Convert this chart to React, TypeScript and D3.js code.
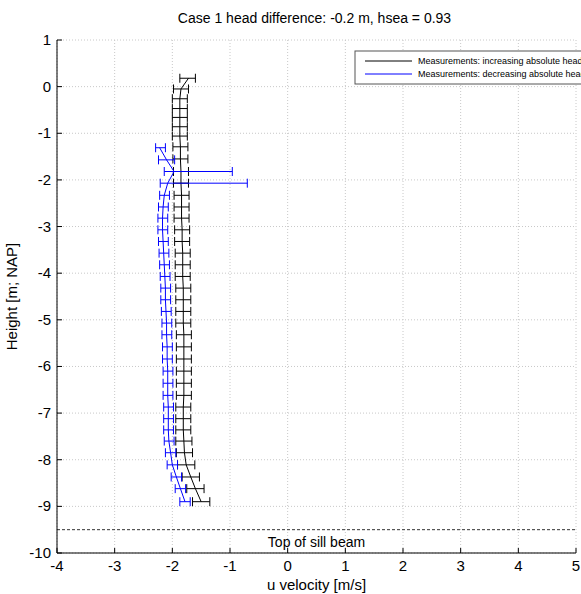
import React from "react";
import * as d3 from "d3";

// measurement heights [m; NAP] and mean u velocity [m/s]
const heightsInc = [0.18, -0.05, -0.26, -0.47, -0.66, -0.86, -1.06, -1.29, -1.55, -1.82, -2.07, -2.33, -2.58, -2.82, -3.07, -3.32, -3.57, -3.82, -4.07, -4.32, -4.57, -4.82, -5.07, -5.32, -5.58, -5.84, -6.1, -6.36, -6.62, -6.87, -7.12, -7.36, -7.6, -7.85, -8.11, -8.37, -8.62, -8.9];
const uInc = [-1.72, -1.85, -1.87, -1.87, -1.87, -1.87, -1.87, -1.86, -1.86, -1.85, -1.85, -1.84, -1.84, -1.84, -1.83, -1.83, -1.82, -1.82, -1.82, -1.81, -1.81, -1.81, -1.81, -1.8, -1.8, -1.8, -1.8, -1.8, -1.8, -1.81, -1.81, -1.81, -1.8, -1.79, -1.76, -1.68, -1.6, -1.5];
const errIncL = [0.15, 0.13, 0.13, 0.13, 0.13, 0.13, 0.13, 0.13, 0.13, 0.13, 0.13, 0.13, 0.13, 0.13, 0.13, 0.13, 0.13, 0.13, 0.13, 0.13, 0.13, 0.13, 0.13, 0.13, 0.13, 0.13, 0.13, 0.13, 0.13, 0.13, 0.13, 0.13, 0.14, 0.14, 0.15, 0.15, 0.15, 0.15];
const errIncR = [0.12, 0.13, 0.13, 0.13, 0.13, 0.13, 0.13, 0.13, 0.13, 0.13, 0.13, 0.13, 0.13, 0.13, 0.13, 0.13, 0.13, 0.13, 0.13, 0.13, 0.13, 0.13, 0.13, 0.13, 0.13, 0.13, 0.13, 0.13, 0.13, 0.13, 0.13, 0.13, 0.14, 0.14, 0.15, 0.15, 0.15, 0.15];

const heightsDec = [-1.31, -1.57, -1.82, -2.07, -2.33, -2.58, -2.82, -3.07, -3.32, -3.57, -3.82, -4.07, -4.32, -4.57, -4.82, -5.07, -5.32, -5.58, -5.84, -6.1, -6.36, -6.62, -6.87, -7.12, -7.36, -7.6, -7.85, -8.11, -8.37, -8.62, -8.9];
const uDec = [-2.22, -2.1, -1.97, -2.08, -2.14, -2.16, -2.17, -2.17, -2.16, -2.15, -2.14, -2.13, -2.12, -2.12, -2.11, -2.1, -2.1, -2.09, -2.09, -2.08, -2.08, -2.08, -2.07, -2.07, -2.07, -2.06, -2.03, -2.0, -1.93, -1.86, -1.78];
const errDecL = [0.07, 0.14, 0.17, 0.13, 0.08, 0.08, 0.08, 0.08, 0.08, 0.08, 0.08, 0.08, 0.08, 0.08, 0.08, 0.08, 0.08, 0.08, 0.08, 0.08, 0.08, 0.08, 0.08, 0.08, 0.08, 0.08, 0.09, 0.09, 0.09, 0.09, 0.09];
const errDecR = [0.1, 0.14, 1.01, 1.38, 0.09, 0.09, 0.09, 0.09, 0.09, 0.09, 0.09, 0.09, 0.09, 0.09, 0.09, 0.09, 0.09, 0.09, 0.09, 0.09, 0.09, 0.09, 0.09, 0.09, 0.09, 0.09, 0.09, 0.09, 0.09, 0.09, 0.09];

const xTicks = [-4, -3, -2, -1, 0, 1, 2, 3, 4, 5];
const yTicks = [1, 0, -1, -2, -3, -4, -5, -6, -7, -8, -9, -10];
const sillLevel = -9.5;
const sillLabel = "Top of sill beam";
const legendLabels = [
  "Measurements: increasing absolute head difference",
  "Measurements: decreasing absolute head difference",
];
const seriesColours = ["#000000", "#0000ff"];

const W = 581;
const H = 594;
const FONT = "'Liberation Sans', Arial, sans-serif";

function Series({ h, u, eL, eR, colour, x, y }) {
  const line = d3
    .line<number>()
    .x((d, i) => x(u[i]))
    .y((d) => y(d));
  const cap = 4.5;
  return (
    <g>
      {h.map((hv, i) => {
        const yy = y(hv);
        const x0 = x(u[i] - eL[i]);
        const x1 = x(u[i] + eR[i]);
        return (
          <g key={i} stroke={colour} strokeWidth={1} fill="none">
            <line x1={x0} x2={x1} y1={yy} y2={yy} />
            <line x1={x0} x2={x0} y1={yy - cap} y2={yy + cap} />
            <line x1={x1} x2={x1} y1={yy - cap} y2={yy + cap} />
          </g>
        );
      })}
      <path d={line(h) || ""} fill="none" stroke={colour} strokeWidth={1} />
    </g>
  );
}

export default function App() {
  const x = d3.scaleLinear().domain([-4, 5]).range([57, 576]);
  const y = d3.scaleLinear().domain([-10, 1]).range([553, 40]);
  const [left, right] = x.range();
  const [bottom, top] = y.range();
  const tick = 5;

  return (
    <svg
      width={W}
      height={H}
      style={{ position: "absolute", left: 0, top: 0, background: "#fff" }}
      fontFamily={FONT}
    >
      <rect width={W} height={H} fill="#fff" />
      {/* grid */}
      <g stroke="#c8c8c8" strokeDasharray="1,2" strokeWidth={1}>
        {xTicks.map((t) => (
          <line key={"gx" + t} x1={x(t)} x2={x(t)} y1={top} y2={bottom} />
        ))}
        {yTicks.map((t) => (
          <line key={"gy" + t} x1={left} x2={right} y1={y(t)} y2={y(t)} />
        ))}
      </g>

      {/* sill beam */}
      <line
        x1={left}
        x2={right}
        y1={y(sillLevel)}
        y2={y(sillLevel)}
        stroke="#333"
        strokeDasharray="3,2"
        strokeWidth={1}
      />
      <text x={x(0.5)} y={y(sillLevel) + 17} textAnchor="middle" fontSize={14}>
        {sillLabel}
      </text>

      <Series h={heightsInc} u={uInc} eL={errIncL} eR={errIncR} colour={seriesColours[0]} x={x} y={y} />
      <Series h={heightsDec} u={uDec} eL={errDecL} eR={errDecR} colour={seriesColours[1]} x={x} y={y} />

      {/* axes */}
      <g stroke="#000" strokeWidth={1}>
        <line x1={left} x2={left} y1={top} y2={bottom} />
        <line x1={left} x2={right} y1={bottom} y2={bottom} />
        {xTicks.map((t) => (
          <line key={"tx" + t} x1={x(t)} x2={x(t)} y1={bottom} y2={bottom - tick} />
        ))}
        {yTicks.map((t) => (
          <line key={"ty" + t} x1={left} x2={left + tick} y1={y(t)} y2={y(t)} />
        ))}
      </g>
      {xTicks.map((t) => (
        <text key={"lx" + t} x={x(t)} y={bottom + 18} textAnchor="middle" fontSize={15}>
          {t}
        </text>
      ))}
      {yTicks.map((t) => (
        <text key={"ly" + t} x={left - 6} y={y(t) + 5} textAnchor="end" fontSize={15}>
          {t}
        </text>
      ))}

      <text x={(left + right) / 2} y={590} textAnchor="middle" fontSize={15}>
        u velocity [m/s]
      </text>
      <text
        transform={`translate(17,${(top + bottom) / 2}) rotate(-90)`}
        textAnchor="middle"
        fontSize={15}
      >
        Height [m; NAP]
      </text>
      <text x={(left + right) / 2 - 2} y={23} textAnchor="middle" fontSize={14}>
        Case 1 head difference: -0.2 m, hsea = 0.93
      </text>

      {/* legend */}
      <g>
        <rect x={355} y={51} width={300} height={33} fill="#fff" stroke="#555" strokeWidth={1} />
        {legendLabels.map((l, i) => (
          <g key={l}>
            <line x1={365} x2={412} y1={61 + i * 13} y2={61 + i * 13} stroke={seriesColours[i]} strokeWidth={1} />
            <text x={418} y={64 + i * 13} fontSize={9}>
              {l}
            </text>
          </g>
        ))}
      </g>
    </svg>
  );
}
